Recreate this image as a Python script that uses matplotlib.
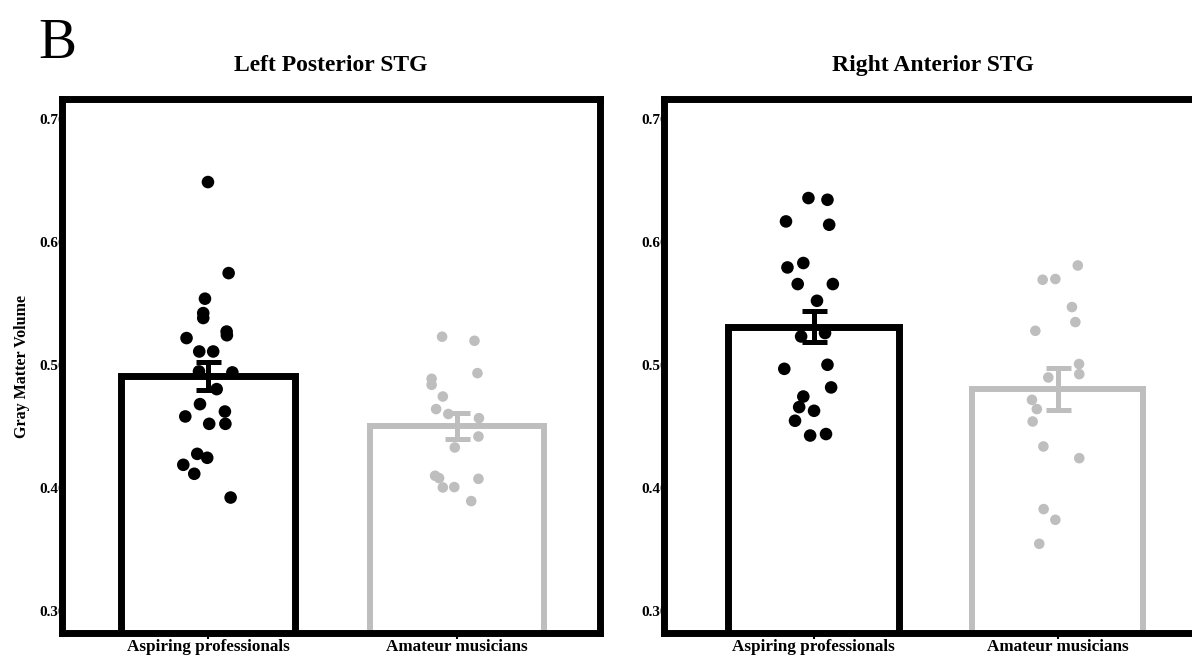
import matplotlib
matplotlib.use("Agg")
import matplotlib.pyplot as plt
import numpy as np

# ---------------- data ----------------
groups = ["Aspiring professionals", "Amateur musicians"]
titles = ["Left Posterior STG", "Right Anterior STG"]
ylabel = "Gray Matter Volume"
yticks = [0.3, 0.4, 0.5, 0.6, 0.7]
ytick_labels = ["0.30", "0.40", "0.50", "0.60", "0.70"]

# Left Posterior STG
lp_pro_vals = [0.6485, 0.5745, 0.5537, 0.542, 0.538, 0.5217, 0.527, 0.524, 0.5108, 0.5108,
               0.4946, 0.4938, 0.4802, 0.468, 0.462, 0.458, 0.452, 0.452, 0.4276, 0.4244,
               0.4187, 0.4114, 0.3921]
lp_pro_jit = [0.0, 0.083, -0.012, -0.019, -0.019, -0.086, 0.075, 0.076, -0.035, 0.021,
              -0.036, 0.098, 0.035, -0.032, 0.068, -0.091, 0.005, 0.070, -0.043, -0.003,
              -0.099, -0.055, 0.091]
lp_ama_vals = [0.5228, 0.5195, 0.4932, 0.4886, 0.4837, 0.4742, 0.464, 0.460, 0.4566, 0.4417,
               0.4328, 0.4098, 0.4079, 0.4003, 0.4006, 0.4073, 0.3892]
lp_ama_jit = [-0.060, 0.070, 0.082, -0.102, -0.102, -0.057, -0.084, -0.035, 0.088, 0.086,
              -0.009, -0.088, -0.072, -0.057, -0.011, 0.086, 0.057]
lp_means = [0.491, 0.450]
lp_se = [0.0115, 0.0105]

# Right Anterior STG
ra_pro_vals = [0.6355, 0.6341, 0.6165, 0.6138, 0.5791, 0.5827, 0.5656, 0.5656, 0.552, 0.5258,
               0.523, 0.4967, 0.500, 0.4816, 0.4742, 0.4656, 0.4626, 0.4545, 0.4425, 0.4437]
ra_pro_jit = [-0.021, 0.057, -0.113, 0.064, -0.107, -0.042, -0.065, 0.079, 0.014, 0.047,
              -0.051, -0.120, 0.057, 0.072, -0.042, -0.059, 0.002, -0.076, -0.014, 0.051]
ra_ama_vals = [0.5807, 0.5691, 0.5697, 0.5469, 0.5347, 0.5276, 0.5006, 0.4924, 0.4897, 0.4715,
               0.464, 0.4539, 0.4336, 0.4241, 0.3827, 0.374, 0.3545]
ra_ama_jit = [0.083, -0.061, -0.009, 0.059, 0.073, -0.091, 0.088, 0.089, -0.038, -0.105,
              -0.085, -0.102, -0.058, 0.089, -0.057, -0.009, -0.075]
ra_means = [0.531, 0.480]
ra_se = [0.0125, 0.017]

# ---------------- style ----------------
BLACK = "#000000"
GRAY = "#BEBEBE"
SERIF = ["Liberation Serif", "DejaVu Serif"]
plt.rcParams["font.family"] = SERIF

fig = plt.figure(figsize=(11.92, 6.56), dpi=100)
W, H = 1192.0, 656.0

panels = [
    dict(left=62, xlim=(-0.586, 1.574), title=titles[0], means=lp_means, se=lp_se,
         pts=[(lp_pro_vals, lp_pro_jit), (lp_ama_vals, lp_ama_jit)]),
    dict(left=664, xlim=(-0.613, 1.592), title=titles[1], means=ra_means, se=ra_se,
         pts=[(ra_pro_vals, ra_pro_jit), (ra_ama_vals, ra_ama_jit)]),
]

top_px, bot_px, width_px = 99, 633, 538
colors = [BLACK, GRAY]
bar_lw = [5.0, 4.3]
ptsize = [82, 58]

for p in panels:
    ax = fig.add_axes([p["left"] / W, 1 - bot_px / H, width_px / W, (bot_px - top_px) / H])
    x = np.arange(len(groups))
    for i in range(len(groups)):
        ax.bar(x[i], p["means"][i], width=0.70, bottom=0, facecolor="white",
               edgecolor=colors[i], linewidth=bar_lw[i], joinstyle="miter", zorder=1)
        vals, jit = p["pts"][i]
        ax.scatter(x[i] + np.array(jit), vals, s=ptsize[i], color=colors[i],
                   edgecolors="none", zorder=3)
        ax.errorbar(x[i], p["means"][i], yerr=p["se"][i], color=colors[i],
                    elinewidth=3.6, capsize=9, capthick=3.6, zorder=4, fmt="none")
    ax.set_xlim(*p["xlim"])
    ax.set_ylim(0.282, 0.716)
    ax.set_xticks(x)
    ax.set_xticklabels(groups, fontsize=12.3, fontweight="bold")
    ax.set_yticks(yticks)
    ax.set_yticklabels(ytick_labels, fontsize=11, fontweight="bold")
    ax.tick_params(axis="y", length=0, pad=-3)
    ax.tick_params(axis="x", length=4, width=1.5, pad=0, color=BLACK)
    for s in ax.spines.values():
        s.set_linewidth(5)
        s.set_color(BLACK)
        s.set_zorder(5)
    ax.set_title(p["title"], fontsize=17, fontweight="bold", pad=20)
    if p["left"] < 100:
        ax.set_ylabel(ylabel, fontsize=11.5, fontweight="bold", labelpad=7)

fig.text(38 / W, 1 - 58 / H, "B", fontsize=41, ha="left", va="baseline")

fig.savefig("out.png", dpi=100)
